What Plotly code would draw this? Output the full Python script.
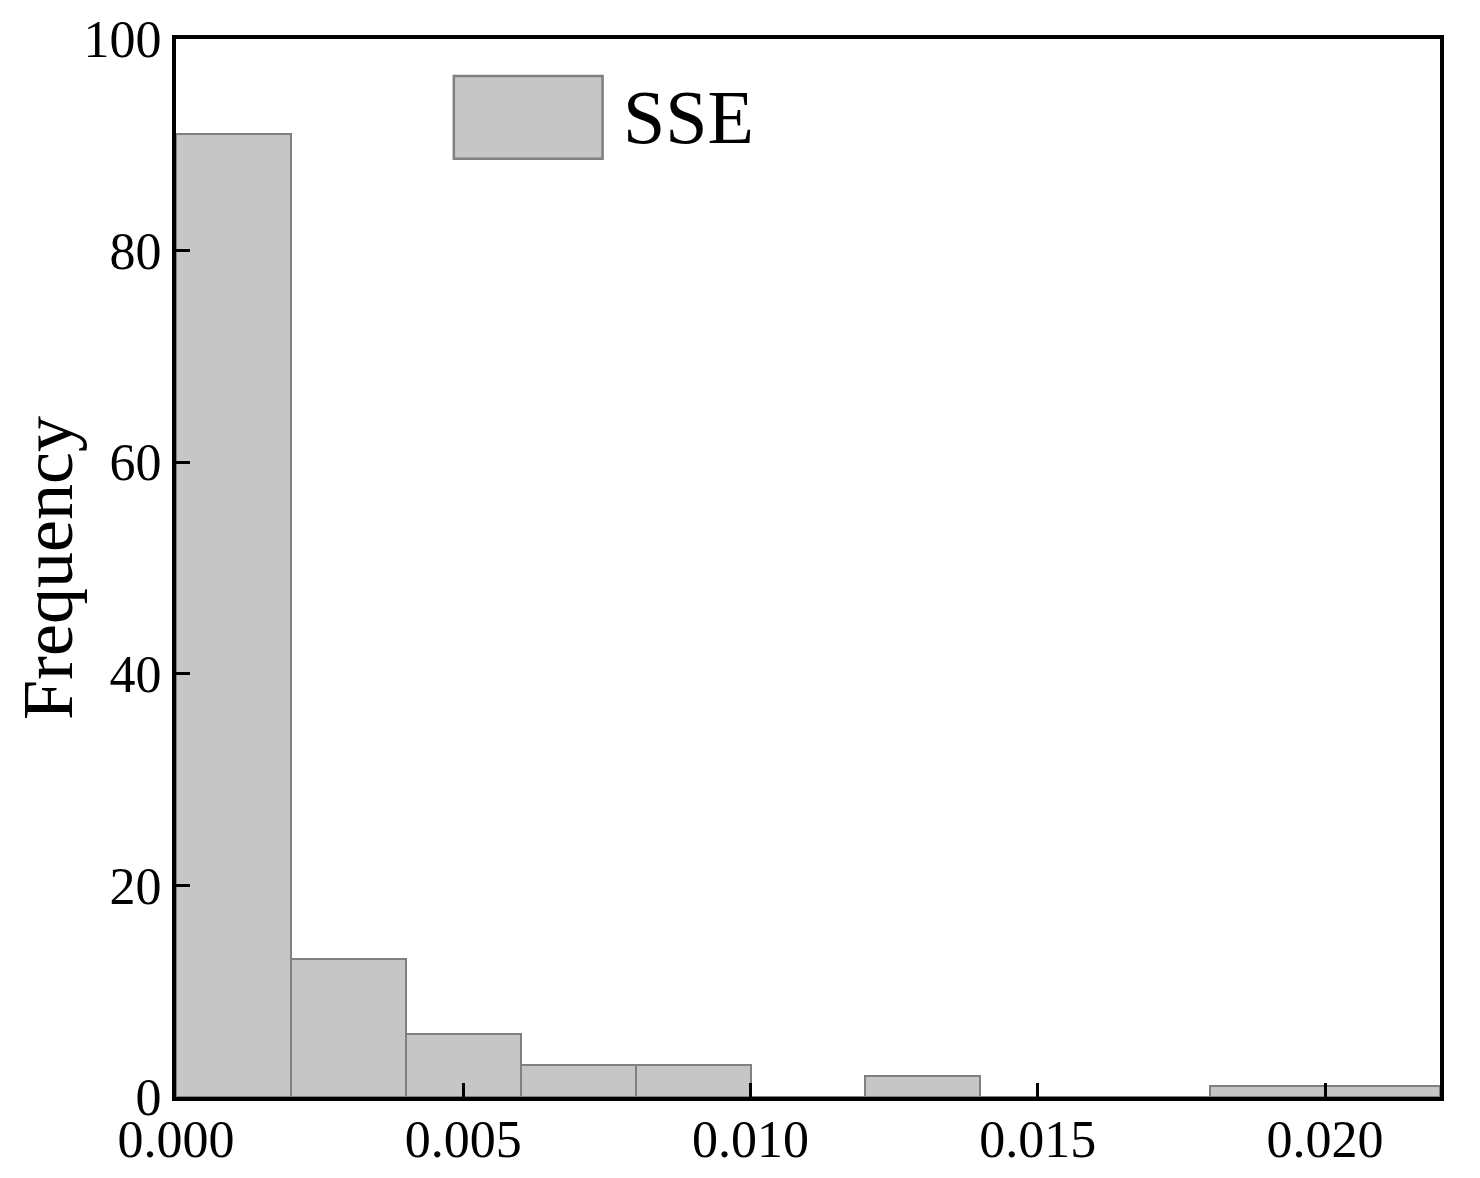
import plotly.graph_objects as go

bin_centers = [0.001, 0.003, 0.005, 0.007, 0.009, 0.011, 0.013, 0.015, 0.017, 0.019, 0.021]
counts = [91, 13, 6, 3, 3, 0, 2, 0, 0, 1, 1]
bin_width = 0.002
x_ticks = [0.000, 0.005, 0.010, 0.015, 0.020]
y_ticks = [0, 20, 40, 60, 80, 100]
series_name = "SSE"

FONT = "Liberation Serif"
FILL = "#c6c6c6"
EDGE = "#808080"

fig = go.Figure()
fig.add_trace(go.Bar(
    x=bin_centers, y=counts, width=bin_width,
    marker=dict(color=FILL, line=dict(color=EDGE, width=2)),
    name=series_name, showlegend=False,
))

axis_common = dict(
    showline=True, linecolor="black", linewidth=4, mirror=True,
    ticks="inside", ticklen=14, tickwidth=3, tickcolor="black",
    showgrid=False, zeroline=False, automargin=False,
    tickfont=dict(family=FONT, size=52, color="black"),
)
fig.update_xaxes(range=[0, 0.022], tickvals=x_ticks, tickformat=".3f",
                 ticklabelstandoff=-6, **axis_common)
fig.update_yaxes(range=[0, 100], tickvals=y_ticks, ticklabelstandoff=0,
                 title=dict(text="Frequency", font=dict(family=FONT, size=72, color="black"),
                            standoff=18),
                 **axis_common)

# legend-like key
fig.add_shape(type="rect", xref="paper", yref="paper",
              x0=0.2198, x1=0.3375, y0=0.8867, y1=0.9651,
              fillcolor=FILL, line=dict(color=EDGE, width=2.5))
fig.add_annotation(xref="paper", yref="paper", x=0.3518, y=0.9263,
                   xanchor="left", yanchor="middle", showarrow=False,
                   text=series_name, font=dict(family=FONT, size=76, color="black"))

fig.update_layout(
    width=1464, height=1162,
    margin=dict(l=168, r=32, t=31, b=73),
    paper_bgcolor="white", plot_bgcolor="white",
    bargap=0,
)
fig.write_html("out.html")
